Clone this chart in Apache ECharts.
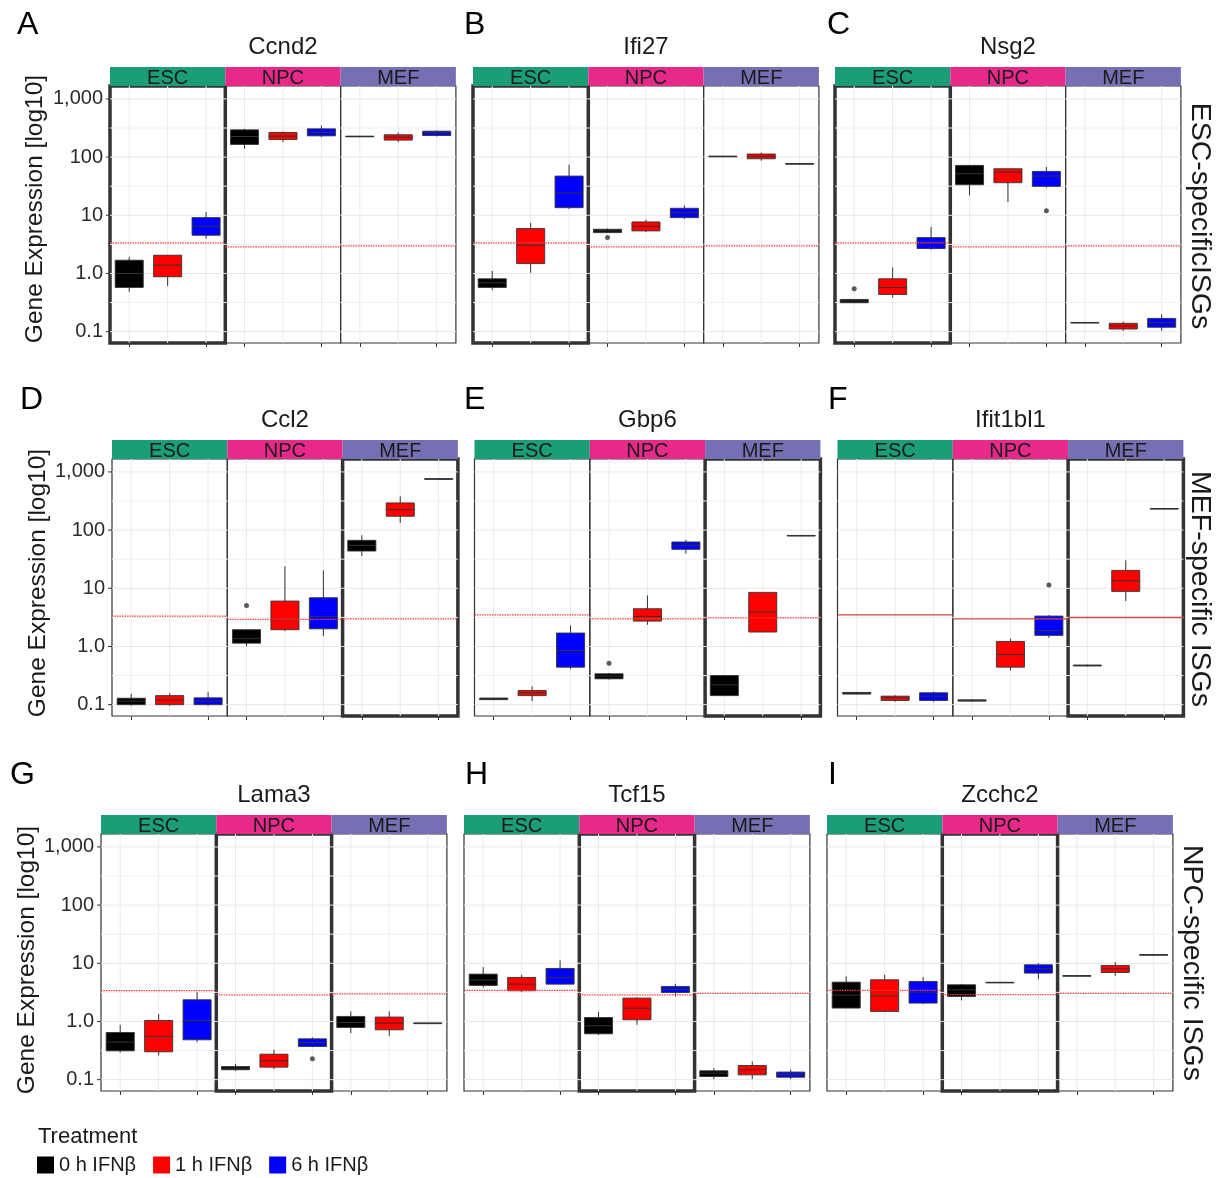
<!DOCTYPE html>
<html>
<head>
<meta charset="utf-8">
<script src="https://cdn.jsdelivr.net/npm/echarts@6/dist/echarts.min.js"></script>
<style>
  html, body { margin: 0; padding: 0; background: #ffffff; }
  #chart { width: 1229px; height: 1178px; }
</style>
</head>
<body>
<div id="chart"></div>
<script>
const FONT = '"Liberation Sans", Arial, Helvetica, sans-serif';

// ---- labels ----
const genes = ['Ccnd2', 'Ifi27', 'Nsg2', 'Ccl2', 'Gbp6', 'Ifit1bl1', 'Lama3', 'Tcf15', 'Zcchc2'];
const panelLetters = ['A', 'B', 'C', 'D', 'E', 'F', 'G', 'H', 'I'];
const cellTypes = ['ESC', 'NPC', 'MEF'];
const treatments = ['0 h IFNβ', '1 h IFNβ', '6 h IFNβ'];
const rowLabels = ['ESC-specificISGs', 'MEF-specific ISGs', 'NPC-specific ISGs'];
const yTicks = [0.1, 1, 10, 100, 1000];
const yTickLabels = ['0.1', '1.0', '10', '100', '1,000'];
const yTitle = 'Gene Expression [log10]';
const legendTitle = 'Treatment';

// ---- five-number summaries [min, Q1, median, Q3, max] ----
// each gene: rows ESC, NPC, MEF; within a row: 0 h, 1 h, 6 h
const ccnd2 = [
  [[0.485, 0.575, 1.0, 1.69, 1.93], [0.606, 0.877, 1.39, 2.06, 2.06], [3.98, 4.54, 6.48, 9.12, 11.4]],
  [[139, 165, 226, 294, 306], [181, 201, 229, 265, 275], [220, 232, 265, 306, 349]],
  [[220, 223, 226, 229, 232], [181, 196, 220, 242, 265], [226, 235, 261, 279, 286]]
];
const ifi27 = [
  [[0.518, 0.575, 0.69, 0.81, 1.11], [1.03, 1.48, 3.06, 5.91, 7.39], [12.8, 13.5, 24.1, 47.2, 73.9]],
  [[4.98, 5.04, 5.39, 5.75, 5.91], [5.18, 5.39, 6.48, 7.69, 8.43], [8.65, 9.12, 11.1, 13.2, 14.8]],
  [[101, 102.5, 103, 103.5, 105], [86.5, 93.6, 103, 113, 120], [76, 76.5, 76.9, 77.3, 78]]
];
const nsg2 = [
  [[0.31, 0.314, 0.336, 0.358, 0.36], [0.383, 0.436, 0.575, 0.81, 1.27], [2.58, 2.68, 3.40, 4.14, 6.31]],
  [[22.0, 33.5, 51.8, 72, 72], [16.9, 36.3, 55.3, 63.1, 64.8], [29.8, 31.4, 47.2, 56.8, 67.4]],
  [[0.141, 0.142, 0.143, 0.144, 0.145], [0.103, 0.111, 0.125, 0.139, 0.148], [0.103, 0.119, 0.143, 0.169, 0.198]]
];
const ccl2 = [
  [[0.096, 0.100, 0.115, 0.129, 0.153], [0.096, 0.100, 0.121, 0.143, 0.157], [0.096, 0.100, 0.115, 0.131, 0.164]],
  [[1.01, 1.14, 1.36, 1.94, 1.94], [1.84, 1.94, 2.88, 6.03, 23.8], [1.51, 2.01, 3.28, 6.88, 20.3]],
  [[35.9, 43.7, 54.7, 66.7, 81.4], [133, 173, 225, 293, 382], [750, 755, 759, 763, 768]]
];
const gbp6 = [
  [[0.121, 0.122, 0.126, 0.130, 0.131], [0.115, 0.143, 0.160, 0.175, 0.205], [0.407, 0.441, 0.853, 1.70, 2.30]],
  [[0.27, 0.278, 0.309, 0.339, 0.35], [2.36, 2.73, 3.28, 4.45, 7.55], [39.4, 46.7, 54.7, 62.5, 68.5]],
  [[0.143, 0.143, 0.219, 0.317, 0.317], [1.77, 1.77, 3.90, 8.50, 8.50], [79, 79.5, 80.3, 81, 81.5]]
];
const ifit1bl1 = [
  [[0.150, 0.152, 0.157, 0.162, 0.165], [0.112, 0.118, 0.131, 0.140, 0.145], [0.112, 0.118, 0.140, 0.160, 0.167]],
  [[0.113, 0.115, 0.118, 0.121, 0.123], [0.386, 0.441, 0.728, 1.22, 1.36], [1.41, 1.55, 1.88, 3.33, 3.45]],
  [[0.455, 0.462, 0.471, 0.480, 0.487], [6.03, 8.85, 13.5, 20.3, 30.2], [232, 233, 234, 235, 236]]
];
const lama3 = [
  [[0.293, 0.313, 0.441, 0.647, 0.877], [0.260, 0.301, 0.552, 1.04, 1.34], [0.441, 0.484, 1.04, 2.36, 3.19]],
  [[0.142, 0.148, 0.158, 0.168, 0.187], [0.152, 0.164, 0.211, 0.274, 0.326], [0.362, 0.372, 0.435, 0.503, 0.531]],
  [[0.630, 0.789, 0.961, 1.22, 1.49], [0.567, 0.719, 0.936, 1.19, 1.49], [0.93, 0.933, 0.936, 0.939, 0.94]]
];
const tcf15 = [
  [[3.84, 4.16, 5.14, 6.51, 8.59], [3.19, 3.37, 4.38, 5.71, 6.34], [4.38, 4.38, 5.71, 8.15, 11.2]],
  [[0.582, 0.614, 0.843, 1.17, 1.45], [0.877, 1.07, 1.69, 2.52, 2.62], [2.69, 3.15, 3.55, 4.0, 4.44]],
  [[0.102, 0.113, 0.129, 0.142, 0.158], [0.102, 0.121, 0.148, 0.175, 0.205], [0.102, 0.110, 0.124, 0.135, 0.148]]
];
const zcchc2 = [
  [[1.70, 1.70, 2.84, 4.74, 5.94], [1.45, 1.49, 2.76, 5.20, 6.34], [1.99, 2.07, 3.19, 4.87, 5.78]],
  [[2.30, 2.69, 3.50, 4.27, 4.38], [4.62, 4.65, 4.68, 4.71, 4.74], [5.35, 6.78, 8.04, 9.42, 10.1]],
  [[6.02, 6.06, 6.10, 6.14, 6.18], [6.10, 6.95, 8.04, 9.18, 10.5], [13.8, 13.9, 14.0, 14.1, 14.2]]
];
const geneSummaries = [ccnd2, ifi27, nsg2, ccl2, gbp6, ifit1bl1, lama3, tcf15, zcchc2];

// outlying points: [gene, cell type, treatment, value]
const outliers = [
  [1, 1, 0, 4.14], [2, 0, 0, 0.546], [2, 1, 2, 12.0], [3, 1, 0, 5.08],
  [4, 1, 0, 0.517], [5, 1, 2, 11.4], [6, 1, 2, 0.228]
];

// expression cut-off per gene and cell type (ESC, NPC, MEF)
const cutoffs = [
  [3.35, 2.87, 2.98], [3.35, 2.87, 2.98], [3.35, 2.87, 2.98],
  [3.33, 2.92, 2.99], [3.5, 2.99, 3.1], [3.5, 2.99, 3.15],
  [3.4, 2.87, 2.98], [3.41, 2.87, 3.05], [3.41, 2.9, 3.05]
];
const solidCutoff = [false, false, false, false, false, true, false, false, false];
// cell type each gene is specific to (outlined facet)
const highlightedCell = [0, 0, 0, 2, 2, 2, 1, 1, 1];

// ---- styling / layout ----
const cellColors = ['#1B9E77', '#E7298A', '#7570B3'];
const treatmentColors = ['#000000', '#FF0000', '#0000FF'];
const panelLeft = [110, 473, 835, 112, 474.5, 837.5, 101, 464, 827];
const FACET_W = 115.3;
const rowTop = [86, 459, 834];
const PLOT_H = 257;
const STRIP_H = 19;
const titleY = [47, 420, 795];
const letterX = [17, 464, 827, 20, 464, 828, 10, 465, 828];
const letterY = [25, 400, 775];
const yTitlePos = [[35, 209], [38, 583], [27, 960]];
const rowLabelPos = [[1200, 216], [1200, 589], [1192, 963]];
const Y_MIN = Math.pow(10, -1.195);
const Y_MAX = Math.pow(10, 3.222);
const BOX_W = FACET_W / 3 * 0.73;
const minorGrid = [-0.5, 0.5, 1.5, 2.5].map(e => Math.pow(10, e));

const grids = [], xAxes = [], yAxes = [], series = [], elements = [];

function boxItem(params, api) {
  const x = api.value(0);
  const p = k => api.coord([x, api.value(k)]);
  const lo = p(1), q1 = p(2), md = p(3), q3 = p(4), hi = p(5);
  const half = BOX_W / 2;
  return {
    type: 'group',
    children: [
      { type: 'line', shape: { x1: lo[0], y1: lo[1], x2: hi[0], y2: hi[1] },
        style: { stroke: '#333333', lineWidth: 1 } },
      { type: 'rect', shape: { x: q1[0] - half, y: q3[1], width: BOX_W, height: Math.max(q1[1] - q3[1], 0.6) },
        style: { fill: api.visual('color'), stroke: '#333333', lineWidth: 0.9 } },
      { type: 'line', shape: { x1: md[0] - half, y1: md[1], x2: md[0] + half, y2: md[1] },
        style: { stroke: '#333333', lineWidth: 1 } }
    ]
  };
}

function panelGridItem(params, api) {
  const cs = params.coordSys;
  const kind = api.value(2);
  if (kind === 2) {
    const x = api.coord([api.value(0), 1])[0];
    return { type: 'line', shape: { x1: x, y1: cs.y, x2: x, y2: cs.y + cs.height },
      style: { stroke: '#EBEBEB', lineWidth: 1 } };
  }
  const y = api.coord([0, api.value(1)])[1];
  if (kind === 3) {
    return { type: 'line', shape: { x1: cs.x - 4, y1: y, x2: cs.x, y2: y },
      style: { stroke: '#333333', lineWidth: 1 } };
  }
  if (kind === 4) {
    // expression cut-off
    return { type: 'line', z2: 10, shape: { x1: cs.x, y1: y, x2: cs.x + cs.width, y2: y },
      style: api.value(3) === 1
        ? { stroke: '#D44A4A', lineWidth: 1.3 }
        : { stroke: '#FF3B3B', lineWidth: 1.3, lineDash: [1.5, 1] } };
  }
  return { type: 'line', shape: { x1: cs.x, y1: y, x2: cs.x + cs.width, y2: y },
    style: { stroke: kind === 0 ? '#E8E8E8' : '#F0F0F0', lineWidth: 1 } };
}

genes.forEach((gene, g) => {
  const row = Math.floor(g / 3);
  const col = g % 3;
  const top = rowTop[row];
  const left0 = panelLeft[g];

  cellTypes.forEach((cell, c) => {
    const idx = grids.length;
    const left = left0 + c * FACET_W;
    const hl = highlightedCell[g] === c;
    const showY = col === 0 && c === 0;
    grids.push({
      left: left, top: top, width: FACET_W, height: PLOT_H,
      show: true, backgroundColor: 'transparent',
      borderColor: '#333333', borderWidth: hl ? 3.5 : 1.2, z: hl ? 1 : 0
    });
    xAxes.push({
      gridIndex: idx, type: 'category', data: treatments,
      axisLine: { show: false },
      axisLabel: { show: false },
      axisTick: { show: true, alignWithLabel: true, length: 4, lineStyle: { color: '#333333' } },
      splitLine: { show: false }
    });
    yAxes.push({
      gridIndex: idx, type: 'log', logBase: 10, min: Y_MIN, max: Y_MAX,
      axisLine: { show: false },
      axisTick: { show: false },
      splitLine: { show: false },
      axisLabel: {
        show: showY, margin: 7, fontSize: 20, color: '#2B2B2B', fontFamily: FONT,
        showMinLabel: false, showMaxLabel: false,
        formatter: v => {
          const e = Math.log10(v);
          const r = Math.round(e);
          if (Math.abs(e - r) > 1e-6) return '';
          const i = r + 1;
          return i >= 0 && i < yTickLabels.length ? yTickLabels[i] : '';
        }
      }
    });

    // background grid lines, y ticks
    const gridData = [];
    yTicks.forEach(v => gridData.push([0, v, 0, 0]));
    minorGrid.forEach(v => gridData.push([0, v, 1, 0]));
    treatments.forEach((t, i) => gridData.push([i, 1, 2, 0]));
    if (showY) yTicks.forEach(v => gridData.push([0, v, 3, 0]));
    series.push({
      type: 'custom', xAxisIndex: idx, yAxisIndex: idx, z: 1, silent: true,
      renderItem: panelGridItem, data: gridData, encode: { x: 0, y: 1 }
    });

    // boxes, one series per treatment
    treatments.forEach((t, ti) => {
      const s = geneSummaries[g][c][ti];
      series.push({
        name: t, type: 'custom', xAxisIndex: idx, yAxisIndex: idx, z: 2,
        itemStyle: { color: treatmentColors[ti] },
        renderItem: boxItem,
        data: [[ti].concat(s)],
        encode: { x: 0, y: [1, 2, 3, 4, 5] }
      });
    });

    // outlying points
    const pts = outliers.filter(o => o[0] === g && o[1] === c).map(o => [o[2], o[3]]);
    if (pts.length) {
      series.push({
        type: 'scatter', xAxisIndex: idx, yAxisIndex: idx, z: 3, silent: true,
        symbol: 'circle', symbolSize: 5, itemStyle: { color: '#333333' }, data: pts
      });
    }

    // cut-off line, drawn above the boxes
    series.push({
      type: 'custom', xAxisIndex: idx, yAxisIndex: idx, z: 4, silent: true,
      renderItem: panelGridItem,
      data: [[0, cutoffs[g][c], 4, solidCutoff[g] ? 1 : 0]],
      encode: { x: 0, y: 1 }
    });

    // facet strip
    elements.push({
      type: 'rect', shape: { x: left, y: top - STRIP_H, width: FACET_W, height: STRIP_H },
      style: { fill: cellColors[c] }, z: 5
    });
    elements.push({
      type: 'text', x: left + FACET_W / 2, y: top - STRIP_H / 2 + 1.5, z: 6,
      style: { text: cell, fontSize: 20, fontFamily: FONT, fill: '#1A1A1A', align: 'center', verticalAlign: 'middle' }
    });
  });

  // gene title and panel letter
  elements.push({
    type: 'text', x: left0 + 1.5 * FACET_W, y: titleY[row], z: 6,
    style: { text: gene, fontSize: 24, fontFamily: FONT, fill: '#1A1A1A', align: 'center', verticalAlign: 'middle' }
  });
  elements.push({
    type: 'text', x: letterX[g], y: letterY[row], z: 6,
    style: { text: panelLetters[g], fontSize: 32, fontFamily: FONT, fill: '#000000', align: 'left', verticalAlign: 'middle' }
  });
});

rowLabels.forEach((lab, r) => {
  elements.push({
    type: 'text', x: yTitlePos[r][0], y: yTitlePos[r][1], rotation: Math.PI / 2, z: 6,
    style: { text: yTitle, fontSize: 24.5, fontFamily: FONT, fill: '#1A1A1A', align: 'center', verticalAlign: 'middle' }
  });
  elements.push({
    type: 'text', x: rowLabelPos[r][0], y: rowLabelPos[r][1], rotation: -Math.PI / 2, z: 6,
    style: { text: lab, fontSize: 28.5, fontFamily: FONT, fill: '#1A1A1A', align: 'center', verticalAlign: 'middle' }
  });
});

elements.push({
  type: 'text', x: 38, y: 1137, z: 6,
  style: { text: legendTitle, fontSize: 22, fontFamily: FONT, fill: '#1A1A1A', align: 'left', verticalAlign: 'middle' }
});

const chart = echarts.init(document.getElementById('chart'), null, { renderer: 'canvas' });
chart.setOption({
  animation: false,
  backgroundColor: '#ffffff',
  textStyle: { fontFamily: FONT },
  grid: grids,
  xAxis: xAxes,
  yAxis: yAxes,
  series: series,
  legend: {
    left: 37, top: 1155, padding: 0, orient: 'horizontal',
    itemWidth: 17, itemHeight: 17, itemGap: 17,
    selectedMode: false,
    textStyle: { fontSize: 20, color: '#1A1A1A', fontFamily: FONT },
    data: treatments.map(t => ({ name: t, icon: 'rect' }))
  },
  graphic: { elements: elements }
});
</script>
</body>
</html>
